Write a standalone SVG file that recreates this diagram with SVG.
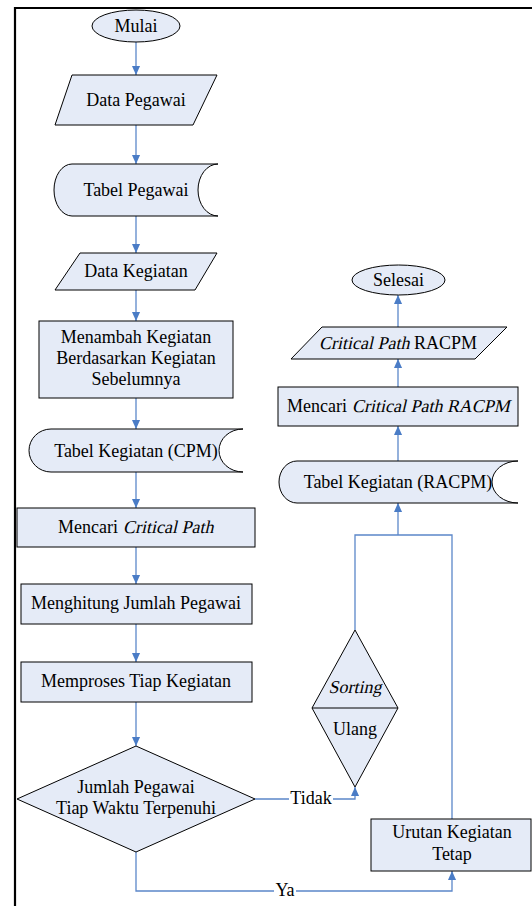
<svg xmlns="http://www.w3.org/2000/svg" width="532" height="906" viewBox="0 0 532 906">
<style>
.n{fill:#e5ebf7;stroke:#000;stroke-width:1}
.c{fill:none;stroke:#5b87c9;stroke-width:1.3}
.bg{fill:#fff}
</style>
<defs>
<marker id="ah" viewBox="0 0 10 10" refX="10" refY="5" markerWidth="9" markerHeight="9" orient="auto" markerUnits="userSpaceOnUse">
<path d="M0,0.5 L10,5 L0,9.5 z" fill="#4a7cc6"/>
</marker>
</defs>
<rect width="532" height="906" fill="#fff"/>
<path d="M15,906 V8 H532" fill="none" stroke="#000" stroke-width="2.2"/>
<g id="connectors">
<path class="c" d="M136,42 V75" marker-end="url(#ah)"/>
<path class="c" d="M136,125 V164" marker-end="url(#ah)"/>
<path class="c" d="M136,216 V253" marker-end="url(#ah)"/>
<path class="c" d="M136,290 V321" marker-end="url(#ah)"/>
<path class="c" d="M136,398 V429" marker-end="url(#ah)"/>
<path class="c" d="M136,472 V508" marker-end="url(#ah)"/>
<path class="c" d="M136,547 V584" marker-end="url(#ah)"/>
<path class="c" d="M136,624 V662" marker-end="url(#ah)"/>
<path class="c" d="M136,702 V746" marker-end="url(#ah)"/>
<path class="c" d="M255,799 H355 V787" marker-end="url(#ah)"/>
<path class="c" d="M136,852 V891 H452 V871" marker-end="url(#ah)"/>
<path class="c" d="M355,630 V535 H452 V819"/>
<path class="c" d="M398,535 V503" marker-end="url(#ah)"/>
<path class="c" d="M398,461 V426" marker-end="url(#ah)"/>
<path class="c" d="M398,387 V359" marker-end="url(#ah)"/>
<path class="c" d="M398,327 V295" marker-end="url(#ah)"/>
<rect class="bg" x="289" y="789" width="44" height="20"/>
<text font-family="Liberation Serif" font-size="18" text-anchor="middle" x="311" y="804">Tidak</text>
<rect class="bg" x="274" y="882" width="22" height="18"/>
<text font-family="Liberation Serif" font-size="18" text-anchor="middle" x="285" y="896">Ya</text>
</g>
<g id="mulai">
<ellipse class="n" cx="136" cy="26" rx="44" ry="16"/>
<text font-family="Liberation Serif" font-size="18" text-anchor="middle" x="136" y="32">Mulai</text>
</g>
<g id="data-pegawai">
<polygon class="n" points="72,75 217,75 193,125 55,125"/>
<text font-family="Liberation Serif" font-size="18" text-anchor="middle" x="136" y="106">Data Pegawai</text>
</g>
<g id="tabel-pegawai">
<path class="n" d="M72,164 H218 A20 26 0 0 0 218,216 H72 A18 26 0 0 1 72,164 Z"/>
<text font-family="Liberation Serif" font-size="18" text-anchor="middle" x="136" y="196">Tabel Pegawai</text>
</g>
<g id="data-kegiatan">
<polygon class="n" points="80,253 217,253 195,290 55,290"/>
<text font-family="Liberation Serif" font-size="18" text-anchor="middle" x="136" y="277">Data Kegiatan</text>
</g>
<g id="menambah">
<rect class="n" x="39" y="321" width="194" height="77"/>
<text font-family="Liberation Serif" font-size="18" text-anchor="middle" x="136" y="343">Menambah Kegiatan</text>
<text font-family="Liberation Serif" font-size="18" text-anchor="middle" x="136" y="364">Berdasarkan Kegiatan</text>
<text font-family="Liberation Serif" font-size="18" text-anchor="middle" x="136" y="385">Sebelumnya</text>
</g>
<g id="tabel-cpm">
<path class="n" d="M51,429 H243 A24 21.5 0 0 0 243,472 H51 A22 21.5 0 0 1 51,429 Z"/>
<text font-family="Liberation Serif" font-size="18" text-anchor="middle" x="136" y="457">Tabel Kegiatan (CPM)</text>
</g>
<g id="mencari-cp">
<rect class="n" x="17" y="508" width="238" height="39"/>
<text font-family="Liberation Serif" font-size="18" x="58" y="533">Mencari</text>
<text font-family="Liberation Serif" font-size="18" transform="translate(123,533) skewX(-13)" x="0" y="0">Critical Path</text>
</g>
<g id="menghitung">
<rect class="n" x="21" y="584" width="231" height="40"/>
<text font-family="Liberation Serif" font-size="18" text-anchor="middle" x="136" y="609">Menghitung Jumlah Pegawai</text>
</g>
<g id="memproses">
<rect class="n" x="21" y="662" width="231" height="40"/>
<text font-family="Liberation Serif" font-size="18" text-anchor="middle" x="136" y="687">Memproses Tiap Kegiatan</text>
</g>
<g id="decision">
<polygon class="n" points="136,746 255,799 136,852 17,799"/>
<text font-family="Liberation Serif" font-size="18" text-anchor="middle" x="136" y="793">Jumlah Pegawai</text>
<text font-family="Liberation Serif" font-size="18" text-anchor="middle" x="136" y="814">Tiap Waktu Terpenuhi</text>
</g>
<g id="sorting">
<polygon class="n" points="355,630 398,708 355,787 312,708"/>
<line x1="312" y1="708" x2="398" y2="708" stroke="#000" stroke-width="1"/>
<text font-family="Liberation Serif" font-size="18" text-anchor="middle" transform="translate(355,693) skewX(-13)" x="0" y="0">Sorting</text>
<text font-family="Liberation Serif" font-size="18" text-anchor="middle" x="355" y="735">Ulang</text>
</g>
<g id="urutan">
<rect class="n" x="371" y="819" width="160" height="52"/>
<text font-family="Liberation Serif" font-size="18" text-anchor="middle" x="452" y="838">Urutan Kegiatan</text>
<text font-family="Liberation Serif" font-size="18" text-anchor="middle" x="452" y="860">Tetap</text>
</g>
<g id="tabel-racpm">
<path class="n" d="M297,461 H518 A26 21 0 0 0 518,503 H297 A18 21 0 0 1 297,461 Z"/>
<text font-family="Liberation Serif" font-size="18" text-anchor="middle" x="398" y="488">Tabel Kegiatan (RACPM)</text>
</g>
<g id="mencari-racpm">
<rect class="n" x="278" y="387" width="240" height="39"/>
<text font-family="Liberation Serif" font-size="18" x="287" y="412">Mencari</text>
<text font-family="Liberation Serif" font-size="18" transform="translate(352,412) skewX(-13)" x="0" y="0">Critical Path RACPM</text>
</g>
<g id="cp-racpm">
<polygon class="n" points="322,327 507,327 475,359 291,359"/>
<text font-family="Liberation Serif" font-size="18" transform="translate(319,349) skewX(-13)" x="0" y="0">Critical Path</text>
<text font-family="Liberation Serif" font-size="18" x="414" y="349">RACPM</text>
</g>
<g id="selesai">
<ellipse class="n" cx="398.5" cy="280" rx="46.5" ry="15"/>
<text font-family="Liberation Serif" font-size="18" text-anchor="middle" x="398.5" y="286">Selesai</text>
</g>
</svg>
